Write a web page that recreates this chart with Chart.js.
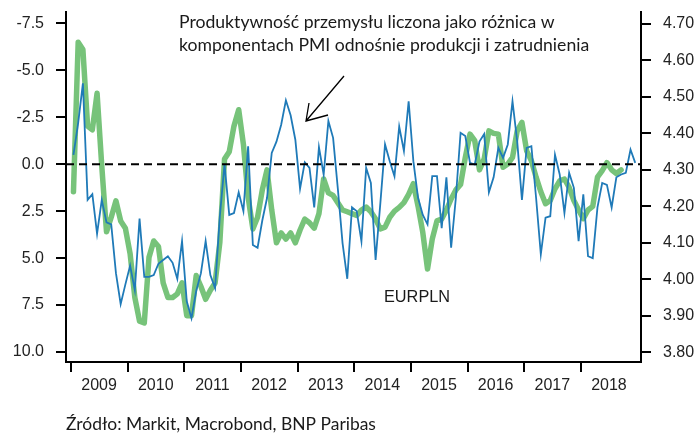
<!DOCTYPE html>
<html>
<head>
<meta charset="utf-8">
<script src="https://cdn.jsdelivr.net/npm/chart.js@4.4.1/dist/chart.umd.min.js"></script>
<style>
    html, body { margin: 0; padding: 0; background: #fff; }
    #wrap { position: relative; width: 698px; height: 434px; }
</style>
</head>
<body>
<div id="wrap"><canvas id="chart" width="698" height="434"></canvas></div>
<script>
// monthly data, Jan 2009 - Dec 2018
const startYear = 2009;
const yearTicks = [2009, 2010, 2011, 2012, 2013, 2014, 2015, 2016, 2017, 2018];
const leftTicks = [-7.5, -5.0, -2.5, 0.0, 2.5, 5.0, 7.5, 10.0];
const rightTicks = [3.80, 3.90, 4.00, 4.10, 4.20, 4.30, 4.40, 4.50, 4.60, 4.70];

// productivity (PMI output minus employment), left axis, inverted
const productivity = [
    -0.5, -2.2, -4.3, 1.9, 1.6, 3.7, 1.9, 3.1, 3.2, 5.8, 7.45, 6.4,
    5.4, 6.7, 2.9, 6.0, 6.0, 5.9, 5.3, 5.1, 4.9, 5.25, 6.1, 4.1,
    7.3, 8.2, 6.75, 5.8, 4.1, 5.9, 6.6, 2.8, 0.0, 2.7, 2.6, 1.5,
    2.5, -0.95, 4.3, 4.45, 3.0, 1.8, -0.6, -1.2, -2.1, -3.4, -2.6, -1.3,
    1.3, -0.1, 0.2, 2.3, -0.9, 0.55, -2.3, -1.4, 1.3, 4.2, 6.1, 2.3,
    2.5, 4.1, 0.2, 1.0, 5.1, 2.1, -1.05, -0.16, 0.64, -2.0, -0.7, -3.35,
    -0.16, 1.8, 2.7, 3.2, 0.64, 0.64, 3.4, 0.7, 4.45, 1.8, -1.67, -1.5,
    -0.07, 0.02, -1.2, -1.6, 1.5, 0.7, -0.87, -0.34, -1.05, -3.35, -1.2, 1.9,
    -0.87, -0.96, 1.8, 4.8, 2.85, 2.77, -0.5, 0.55, 2.6, 0.46, 1.26, 4.1,
    1.6, 4.9, 5.0, 2.3, 1.0, 1.1, 2.3, 0.7, 0.55, 0.46, -0.78, -0.07
];

// EURPLN, right axis (ends Sep 2018)
const eurpln = [
    4.24, 4.65, 4.63, 4.42, 4.41, 4.51, 4.31, 4.13, 4.17, 4.215, 4.16, 4.14,
    4.07, 3.95, 3.885, 3.88, 4.06, 4.105, 4.09, 3.99, 3.95, 3.95, 3.96, 3.99,
    3.90, 3.90, 4.01, 3.98, 3.945, 3.97, 3.99, 4.10, 4.33, 4.35, 4.42, 4.465,
    4.37, 4.225, 4.138, 4.17, 4.245, 4.30, 4.19, 4.10, 4.127, 4.11, 4.127, 4.10,
    4.135, 4.165, 4.155, 4.14, 4.18, 4.275, 4.237, 4.23, 4.21, 4.19, 4.185, 4.18,
    4.175, 4.19, 4.198, 4.185, 4.165, 4.138, 4.143, 4.17, 4.187, 4.197, 4.21, 4.233,
    4.262, 4.20, 4.128, 4.028, 4.11, 4.16, 4.165, 4.19, 4.22, 4.245, 4.26, 4.334,
    4.398, 4.38, 4.30, 4.33, 4.407, 4.40, 4.398, 4.307, 4.316, 4.334, 4.407, 4.43,
    4.352, 4.325, 4.28, 4.24, 4.207, 4.216, 4.248, 4.27, 4.275, 4.252, 4.216, 4.19,
    4.166, 4.19, 4.20, 4.28, 4.298, 4.32, 4.30, 4.29, 4.30
];

const noteLines = [
    'Produktywność przemysłu liczona jako różnica w',
    'komponentach PMI odnośnie produkcji i zatrudnienia'
];
const seriesLabel = 'EURPLN';
const sourceText = 'Źródło: Markit, Macrobond, BNP Paribas';

const xMin = 2008.91;
const xMax = 2019.06;

function monthX(i) {
    return startYear + (i + 0.5) / 12;
}

const tickFont = { family: 'Liberation Sans', size: 16 };

// dobiera rozmiar czcionki do szerokości tekstu z oryginału
function fitFont(ctx, text, family, width) {
    ctx.font = '20px ' + family;
    const size = 20 * width / ctx.measureText(text).width;
    return size.toFixed(2) + 'px ' + family;
}

function noPadding(s) {
    s.paddingTop = 0;
    s.paddingBottom = 0;
    s.paddingLeft = 0;
    s.paddingRight = 0;
}

// napisy, strzałka
const annotate = {
    id: 'annotate',
    afterDraw(chart) {
        const ctx = chart.ctx;
        ctx.save();
        ctx.fillStyle = '#1a1a1a';
        ctx.textAlign = 'left';
        ctx.textBaseline = 'middle';
        ctx.font = fitFont(ctx, noteLines[0], 'Lato', 376);
        ctx.fillText(noteLines[0], 179, 22);
        ctx.fillText(noteLines[1], 179, 45);

        ctx.strokeStyle = '#000';
        ctx.lineWidth = 1.3;
        ctx.beginPath();
        ctx.moveTo(344, 76);
        ctx.lineTo(306, 121);
        ctx.moveTo(309, 103);
        ctx.lineTo(306, 121);
        ctx.lineTo(328, 115);
        ctx.stroke();

        ctx.font = '16.3px "Liberation Sans"';
        ctx.fillText(seriesLabel, 384, 298);

        ctx.font = fitFont(ctx, sourceText, 'Lato', 310);
        ctx.fillText(sourceText, 66, 424);
        ctx.restore();
    }
};

const ctx = document.getElementById('chart').getContext('2d');
new Chart(ctx, {
    type: 'line',
    data: {
        datasets: [{
            label: 'zero',
            data: [{ x: xMin, y: 0 }, { x: xMax, y: 0 }],
            yAxisID: 'yL',
            borderColor: '#000',
            borderWidth: 2,
            borderDash: [8, 5],
            pointRadius: 0,
            order: 0
        }, {
            label: 'Produktywność',
            data: productivity.map((v, i) => ({ x: monthX(i), y: v })),
            yAxisID: 'yL',
            borderColor: '#1f7ab8',
            borderWidth: 1.8,
            pointRadius: 0,
            tension: 0,
            order: 1
        }, {
            label: seriesLabel,
            data: eurpln.map((v, i) => ({ x: monthX(i), y: v })),
            yAxisID: 'yR',
            borderColor: '#77c37a',
            borderWidth: 5.5,
            borderJoinStyle: 'round',
            borderCapStyle: 'round',
            pointRadius: 0,
            tension: 0,
            order: 2
        }]
    },
    options: {
        responsive: false,
        maintainAspectRatio: false,
        animation: false,
        layout: { padding: { top: 12, left: 0, right: 0, bottom: 0 } },
        plugins: {
            legend: { display: false },
            tooltip: { enabled: false }
        },
        scales: {
            x: {
                type: 'linear',
                min: xMin,
                max: xMax,
                afterBuildTicks: s => { s.ticks = yearTicks.map(v => ({ value: v })); },
                afterFit: s => { s.height = 72; noPadding(s); },
                ticks: {
                    callback: v => String(v),
                    labelOffset: 28,
                    padding: 4,
                    maxRotation: 0,
                    autoSkip: false,
                    color: '#222',
                    font: tickFont
                },
                grid: { drawOnChartArea: false, drawTicks: true, tickLength: 10, color: '#000', lineWidth: 2 },
                border: { display: true, color: '#000', width: 2 }
            },
            yL: {
                position: 'left',
                reverse: true,
                min: -8.1,
                max: 10.53,
                afterBuildTicks: s => { s.ticks = leftTicks.map(v => ({ value: v })); },
                afterFit: s => { s.width = 66; noPadding(s); },
                ticks: {
                    callback: v => v.toFixed(1),
                    padding: 12,
                    color: '#222',
                    font: tickFont
                },
                grid: { drawOnChartArea: false, drawTicks: true, tickLength: 10, color: '#000', lineWidth: 2 },
                border: { display: true, color: '#000', width: 2 }
            },
            yR: {
                position: 'right',
                min: 3.773,
                max: 4.733,
                afterBuildTicks: s => { s.ticks = rightTicks.map(v => ({ value: v })); },
                afterFit: s => { s.width = 57; noPadding(s); },
                ticks: {
                    callback: v => v.toFixed(2),
                    padding: 12,
                    color: '#222',
                    font: tickFont
                },
                grid: { drawOnChartArea: false, drawTicks: true, tickLength: 10, color: '#000', lineWidth: 2 },
                border: { display: true, color: '#000', width: 2 }
            }
        }
    },
    plugins: [annotate]
});
</script>
</body>
</html>
